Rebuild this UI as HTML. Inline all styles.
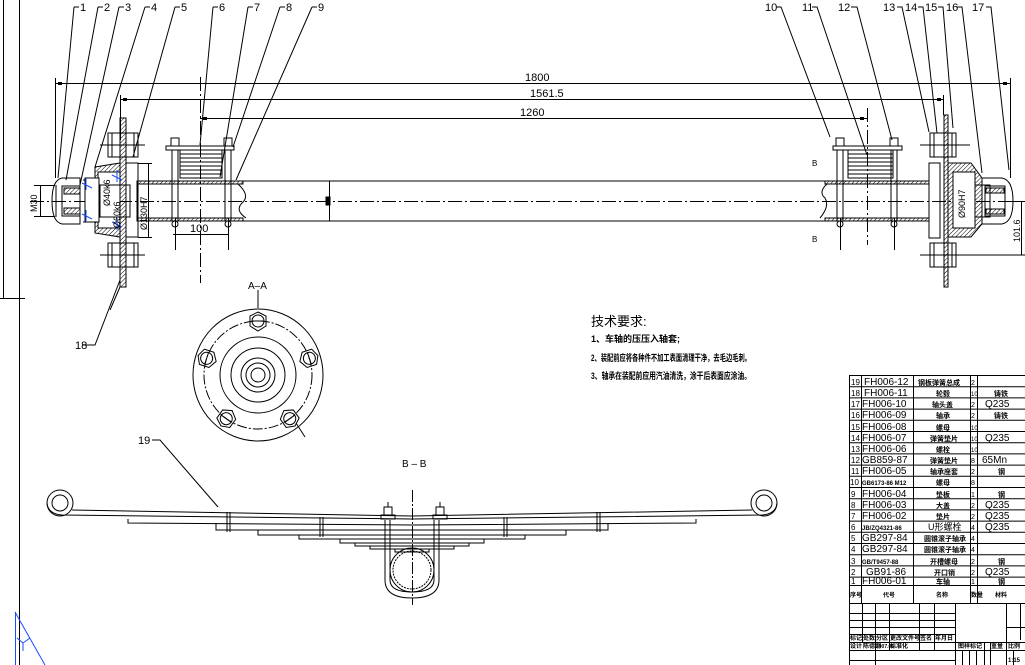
<!DOCTYPE html>
<html><head><meta charset="utf-8"><style>
html,body{margin:0;padding:0;background:#fff;}
svg{display:block;}
text{font-family:"Liberation Sans","Noto Sans CJK SC",sans-serif;fill:#000;}
.c{font-family:"Liberation Sans","Noto Sans CJK SC",sans-serif;font-weight:bold;}
</style></head><body>
<svg width="1025" height="665" viewBox="0 0 1025 665" xmlns="http://www.w3.org/2000/svg">
<defs>
<pattern id="h" width="3" height="3" patternUnits="userSpaceOnUse" patternTransform="rotate(45)"><line x1="0" y1="0" x2="0" y2="3" stroke="#000" stroke-width="1"/></pattern>
</defs>
<g stroke="#000" stroke-width="1" fill="none">
<line x1="3.5" y1="0" x2="3.5" y2="298"/><line x1="19.5" y1="0" x2="19.5" y2="665"/><line x1="0" y1="298.5" x2="25" y2="298.5"/>
<g stroke="#1a4cff"><line x1="15.5" y1="612" x2="15.5" y2="665"/><line x1="15" y1="612" x2="45" y2="665"/><line x1="17" y1="638" x2="23" y2="643"/><line x1="23" y1="643" x2="30" y2="638"/><line x1="23" y1="643" x2="23" y2="651"/></g>

<path d="M74,7 H79 M74,7 L58,178 M98,7 H103 M98,7 L66,180 M119,7 H124 M119,7 L80,185 M145,7 H150 M145,7 L95,167 M175,7 H180 M175,7 L133,157 M213,7 H218 M213,7 L200,145 M248,7 H253 M248,7 L220,177 M280,7 H285 M280,7 L233,147 M312,7 H317 M312,7 L236,180"/>
<path d="M776,7 H781 L830,137 M812,7 H817 L867,155 M851,7 H857 L892,140 M897,7 H902 L929,132 M918,7 H923 L937,133 M938,7 H943 L953,128 M957,7 H962 L982,173 M986,7 H991 L1009,170"/>

<line x1="55" y1="83.5" x2="1010" y2="83.5"/><line x1="120" y1="99.5" x2="944" y2="99.5"/><line x1="200" y1="118.5" x2="867" y2="118.5"/>
<line x1="55.5" y1="78" x2="55.5" y2="178"/><line x1="1010.5" y1="78" x2="1010.5" y2="178"/>
<line x1="120.5" y1="95" x2="120.5" y2="140"/><line x1="943.5" y1="95" x2="943.5" y2="115"/>
<g stroke-dasharray="14,3,2,3"><line x1="200.5" y1="77" x2="200.5" y2="283"/><line x1="867.5" y1="108" x2="867.5" y2="245"/><line x1="30" y1="201.5" x2="1025" y2="201.5"/></g>
<g fill="#000" stroke="none"><rect x="58" y="82" width="4" height="3"/><rect x="1003" y="82" width="4" height="3"/><rect x="123" y="98" width="4" height="3"/><rect x="937" y="98" width="4" height="3"/><rect x="203" y="117" width="4" height="3"/><rect x="860" y="117" width="4" height="3"/></g>

<path d="M137,181 H929 M137,221 H929 M137,181 V221"/>
<rect x="137" y="181" width="106" height="3" fill="url(#h)"/><rect x="137" y="218" width="106" height="3" fill="url(#h)"/>
<rect x="825" y="181" width="104" height="3" fill="url(#h)"/><rect x="825" y="218" width="104" height="3" fill="url(#h)"/>
<path d="M238,184 Q250,195 243,202 Q234,210 246,218"/><path d="M827,184 Q818,192 825,198 Q830,206 820,218"/>
<line x1="329.5" y1="181" x2="329.5" y2="221"/><rect x="326" y="197" width="4" height="8" fill="#000"/>

<rect x="120" y="118" width="6" height="169" fill="url(#h)"/>
<path d="M108,133 h30 v24 h-30 z M112,133 v24 M134,133 v24 M100,145 h45"/>
<path d="M108,243 h30 v24 h-30 z M112,243 v24 M134,243 v24 M100,255 h45"/>
<rect x="126" y="163" width="12" height="74"/>
<path d="M95,167 L120,163 V237 L95,233 Z" fill="url(#h)"/>
<rect x="98" y="172" width="22" height="56" fill="#fff"/>
<path d="M98,172 h22 v56 h-22 z M83,180 h15 M83,222 h15"/>
<rect x="85" y="178" width="14" height="44" fill="#fff"/>
<path d="M85,178 v44 M100,185 h30 v32 h-30 z"/>
<path d="M80,178 H62 Q52,180 52,201 Q52,222 62,224 H80 Z M56,185 V217 M62,186 h18 v30 h-18 z"/>
<rect x="64" y="188" width="16" height="6" fill="url(#h)"/><rect x="64" y="208" width="16" height="6" fill="url(#h)"/>
<g stroke="#1a4cff"><path d="M82,183 l10,5 M86,178 v12 M82,214 l10,5 M86,210 v12 M112,175 l10,5 M117,170 v12 M112,222 l10,5 M117,218 v12"/></g>
<line x1="148.5" y1="163" x2="148.5" y2="237"/><line x1="138" y1="163.5" x2="152" y2="163.5"/><line x1="138" y1="237.5" x2="152" y2="237.5"/>
<line x1="40.5" y1="185" x2="40.5" y2="217"/><line x1="34" y1="185.5" x2="55" y2="185.5"/><line x1="34" y1="216.5" x2="55" y2="216.5"/>
<path d="M120,287 L110,310"/><path d="M120,280 L95,345 H82"/>

<rect x="166" y="146" width="68" height="4"/>
<rect x="180" y="150" width="42" height="28"/>
<path d="M180,154h42M180,158h42M180,162h42M180,166h42M180,170h42M180,174h42"/>
<path d="M171,138 h8 v8 h-8 z M224,138 h8 v8 h-8 z M172,150 V221 M178,150 V221 M225,150 V221 M231,150 V221"/>
<circle cx="175" cy="224" r="3"/><circle cx="228" cy="224" r="3"/>
<line x1="175.5" y1="218" x2="175.5" y2="250"/><line x1="228.5" y1="218" x2="228.5" y2="250"/>
<line x1="173" y1="234.5" x2="228" y2="234.5"/>

<rect x="833" y="146" width="69" height="4"/>
<rect x="848" y="150" width="45" height="28"/>
<path d="M848,154h45M848,158h45M848,162h45M848,166h45M848,170h45M848,174h45"/>
<path d="M836,138 h8 v8 h-8 z M890,138 h8 v8 h-8 z M837,150 V221 M843,150 V221 M891,150 V221 M897,150 V221"/>
<circle cx="840" cy="224" r="3"/><circle cx="894" cy="224" r="3"/>
<line x1="840.5" y1="218" x2="840.5" y2="250"/><line x1="894.5" y1="218" x2="894.5" y2="250"/>

<rect x="944" y="115" width="4" height="172" fill="url(#h)"/>
<path d="M930,133 h26 v24 h-26 z M934,133 v24 M952,133 v24 M920,145 h50"/>
<path d="M930,243 h26 v24 h-26 z M934,243 v24 M952,243 v24 M920,255 h105"/>
<rect x="929" y="163" width="11" height="75"/>
<path d="M948,163 H971 L982,178 V224 L971,237 H948 Z" fill="url(#h)"/>
<rect x="953" y="172" width="22" height="56" fill="#fff"/><path d="M953,172 h22 v56 h-22 z M975,185 h15 v32 h-15"/>
<path d="M982,178 H1002 Q1013,180 1013,201 Q1013,222 1002,224 H982 M1005,188 v26 M985,186 h20 v30 h-20 z"/>
<rect x="986" y="188" width="18" height="5" fill="url(#h)"/><rect x="986" y="209" width="18" height="5" fill="url(#h)"/>
<line x1="1021.5" y1="201" x2="1021.5" y2="255"/><line x1="1012" y1="201.5" x2="1025" y2="201.5"/>

<path d="M258,290 V308"/>
<ellipse cx="258" cy="375" rx="65" ry="66"/>
<circle cx="258" cy="375" r="54" stroke-dasharray="10,2,2,2"/>
<circle cx="258" cy="375" r="38"/><circle cx="258" cy="375" r="27"/><circle cx="258" cy="375" r="17"/><circle cx="258" cy="375" r="12"/><circle cx="258" cy="375" r="7"/>
<g id="bolt"><polygon points="258,312 266,316 266,326 258,331 250,326 250,316"/><circle cx="258" cy="321" r="6"/><line x1="252" y1="321" x2="264" y2="321"/></g>
<use href="#bolt" transform="rotate(-72 258 375)"/><use href="#bolt" transform="rotate(72 258 375)"/><use href="#bolt" transform="rotate(-144 258 375)"/><use href="#bolt" transform="rotate(144 258 375)"/>
<line x1="296" y1="423" x2="305" y2="437"/>

<circle cx="60" cy="503" r="13"/><circle cx="60" cy="503" r="8"/>
<circle cx="764" cy="503" r="13"/><circle cx="764" cy="503" r="8"/>
<path d="M47,503 Q48,514 62,515 L412,519 L762,515 Q776,514 777,503"/>
<path d="M72,510 L412,516 L752,510"/>
<path d="M128,519 V523 L412,525 L696,523 V519"/>
<path d="M216,523 V530 L412,530 L608,530 V523"/>
<path d="M258,530 V535 H566 V530"/>
<path d="M299,535 V539 H525 V535"/>
<path d="M340,539 V543 H484 V539"/>
<path d="M355,543 V546 H469 V543"/>
<path d="M370,546 V549 H454 V546"/>
<path d="M395,549 V552 H429 V549"/>
<path d="M227,512 V532 M230,512 V532 M320,517 V537 M323,517 V537 M504,517 V537 M507,517 V537 M597,512 V532 M600,512 V532"/>
<path d="M218,507 L160,440 H152"/>
<path d="M385,520 V580 Q385,598 412,598 Q439,598 439,580 V520 M390,520 V580 Q390,592 412,592 Q434,592 434,580 V520"/>
<circle cx="412" cy="570" r="22"/><circle cx="412" cy="570" r="19" stroke-dasharray="2,1"/>
<path d="M381,515 h14 v4 h-14 z M433,515 h14 v4 h-14 z M384,507 h8 v8 h-8 z M436,507 h8 v8 h-8 z M388,502 v5 M440,502 v5"/>
<line x1="412.5" y1="490" x2="412.5" y2="605" stroke-dasharray="12,2,2,2"/>

<g stroke-width="1">
<rect x="849.5" y="375.5" width="176" height="228"/>
<path d="M861.5,375 V603 M913.5,375 V603 M970.5,375 V603 M977.5,375 V603"/>
<path d="M850,386.7H1025M850,397.9H1025M850,409.1H1025M850,420.3H1025M850,431.5H1025M850,442.7H1025M850,453.9H1025M850,465.1H1025M850,476.3H1025M850,487.5H1025M850,498.7H1025M850,509.9H1025M850,521.1H1025M850,532.3H1025M850,543.5H1025M850,554.7H1025M850,565.9H1025M850,577.1H1025M850,585.5H1025"/>
<path d="M849.5,603 V665 M850,613.5H955M850,620.5H955M850,627.5H955M850,634.5H955M850,642.5H1025M850,650.5H1025M850,660.5H955 M862.5,603V642 M875.5,603V665 M889.5,603V650 M919.5,603V650 M934.5,603V650 M955.5,603V665 M1006.5,603V665 M1020.5,603V640 M1006,627.5H1025 M962.5,650V665 M969.5,650V665 M976.5,650V665 M984.5,642V665 M990.5,642V665 M1013.5,650V665 M1006,650.5H1025"/>
</g>
</g>

<g font-size="11">
<text x="80" y="11">1</text><text x="104" y="11">2</text><text x="125" y="11">3</text><text x="151" y="11">4</text><text x="181" y="11">5</text><text x="219" y="11">6</text><text x="254" y="11">7</text><text x="286" y="11">8</text><text x="318" y="11">9</text>
<text x="765" y="11">10</text><text x="802" y="11">11</text><text x="838" y="11">12</text><text x="883" y="11">13</text><text x="905" y="11">14</text><text x="925" y="11">15</text><text x="946" y="11">16</text><text x="972" y="11">17</text>
<text x="525" y="81">1800</text><text x="530" y="97">1561.5</text><text x="520" y="116">1260</text>
<text x="190" y="232">100</text>
<text x="75" y="349">18</text><text x="138" y="444">19</text>
<text x="248" y="289" font-size="10">A–A</text><text x="402" y="467" font-size="10">B – B</text>
</g>
<g font-size="9">
<text transform="translate(37,212) rotate(-90)">M30</text>
<text transform="translate(147,230) rotate(-90)">Ø130H7</text>
<text transform="translate(120,228) rotate(-90)">Ø60k6</text>
<text transform="translate(110,206) rotate(-90)">Ø40k6</text>
<text transform="translate(965,218) rotate(-90)">Ø90H7</text>
<text transform="translate(1020,242) rotate(-90)">101.6</text>
<text x="812" y="166" font-size="8">B</text><text x="812" y="242" font-size="8">B</text>
</g>
<text x="591" y="326" font-size="13">技术要求:</text>
<text x="591" y="342" font-size="9" class="c">1、车轴的压压入轴套;</text>
<text x="591" y="361" font-size="9" class="c" textLength="160" lengthAdjust="spacingAndGlyphs">2、装配前应将各种件不加工表面清理干净，去毛边毛刺。</text>
<text x="591" y="379" font-size="9" class="c" textLength="160" lengthAdjust="spacingAndGlyphs">3、轴承在装配前应用汽油清洗，涂干后表面应涂油。</text>

<g font-size="10">
<text x="851" y="385" font-size="8">19</text><text x="864" y="385">FH006-12</text><text x="918" y="385" font-size="7" class="c">钢板弹簧总成</text><text x="971" y="385" font-size="7">2</text>
<text x="851" y="396" font-size="8">18</text><text x="864" y="396">FH006-11</text><text x="936" y="396" font-size="7" class="c">轮毂</text><text x="971" y="396" font-size="6">10</text><text x="994" y="396" font-size="7" class="c">铸铁</text>
<text x="851" y="407" font-size="8">17</text><text x="862" y="407">FH006-10</text><text x="932" y="407" font-size="7" class="c">轴头盖</text><text x="971" y="407" font-size="7">2</text><text x="985" y="407">Q235</text>
<text x="851" y="418" font-size="8">16</text><text x="862" y="418">FH006-09</text><text x="936" y="418" font-size="7" class="c">轴承</text><text x="971" y="418" font-size="7">2</text><text x="994" y="418" font-size="7" class="c">铸铁</text>
<text x="851" y="430" font-size="8">15</text><text x="862" y="430">FH006-08</text><text x="936" y="430" font-size="7" class="c">螺母</text><text x="971" y="430" font-size="6">10</text>
<text x="851" y="441" font-size="8">14</text><text x="862" y="441">FH006-07</text><text x="930" y="441" font-size="7" class="c">弹簧垫片</text><text x="971" y="441" font-size="6">10</text><text x="985" y="441">Q235</text>
<text x="851" y="452" font-size="8">13</text><text x="862" y="452">FH006-06</text><text x="936" y="452" font-size="7" class="c">螺栓</text><text x="971" y="452" font-size="6">10</text>
<text x="851" y="463" font-size="8">12</text><text x="862" y="463">GB859-87</text><text x="930" y="463" font-size="7" class="c">弹簧垫片</text><text x="971" y="463" font-size="7">8</text><text x="982" y="463">65Mn</text>
<text x="851" y="474" font-size="8">11</text><text x="862" y="474">FH006-05</text><text x="930" y="474" font-size="7" class="c">轴承座套</text><text x="971" y="474" font-size="7">2</text><text x="998" y="474" font-size="7" class="c">钢</text>
<text x="850" y="485" font-size="8">10</text><text x="862" y="485" font-size="6" class="c">GB6173-86 M12</text><text x="936" y="485" font-size="7" class="c">螺母</text><text x="971" y="485" font-size="7">8</text>
<text x="851" y="497" font-size="8">9</text><text x="862" y="497">FH006-04</text><text x="936" y="497" font-size="7" class="c">垫板</text><text x="971" y="497" font-size="7">1</text><text x="998" y="497" font-size="7" class="c">钢</text>
<text x="851" y="508" font-size="8">8</text><text x="862" y="508">FH006-03</text><text x="936" y="508" font-size="7" class="c">大盖</text><text x="971" y="508" font-size="7">2</text><text x="985" y="508">Q235</text>
<text x="851" y="519" font-size="8">7</text><text x="862" y="519">FH006-02</text><text x="936" y="519" font-size="7" class="c">垫片</text><text x="971" y="519" font-size="7">2</text><text x="985" y="519">Q235</text>
<text x="851" y="530" font-size="8">6</text><text x="862" y="530" font-size="6" class="c">JB/ZQ4321-86</text><text x="928" y="530" font-size="9">U形螺栓</text><text x="971" y="530" font-size="7">4</text><text x="985" y="530">Q235</text>
<text x="851" y="541" font-size="8">5</text><text x="862" y="541">GB297-84</text><text x="924" y="541" font-size="7" class="c">圆锥滚子轴承</text><text x="971" y="541" font-size="7">4</text>
<text x="851" y="552" font-size="8">4</text><text x="862" y="552">GB297-84</text><text x="924" y="552" font-size="7" class="c">圆锥滚子轴承</text><text x="971" y="552" font-size="7">4</text>
<text x="851" y="564" font-size="8">3</text><text x="862" y="564" font-size="6" class="c">GB/T9457-88</text><text x="930" y="564" font-size="7" class="c">开槽螺母</text><text x="971" y="564" font-size="7">2</text><text x="998" y="564" font-size="7" class="c">钢</text>
<text x="851" y="575" font-size="8">2</text><text x="866" y="575">GB91-86</text><text x="934" y="575" font-size="7" class="c">开口销</text><text x="971" y="575" font-size="7">2</text><text x="985" y="575">Q235</text>
<text x="851" y="584" font-size="8">1</text><text x="862" y="584">FH006-01</text><text x="936" y="584" font-size="7" class="c">车轴</text><text x="971" y="584" font-size="7">1</text><text x="998" y="584" font-size="7" class="c">钢</text>
</g>
<g font-size="6" class="c">
<text x="850" y="597">序号</text><text x="883" y="597">代号</text><text x="936" y="597">名称</text><text x="971" y="597">数量</text><text x="995" y="597">材料</text>
<text x="850" y="640">标记</text><text x="863" y="640">处数</text><text x="876" y="640">分区</text><text x="890" y="640">更改文件号</text><text x="920" y="640">签名</text><text x="935" y="640">年月日</text>
<text x="850" y="648">设计</text><text x="863" y="648">陈德刚</text><text x="876" y="648" font-size="5">2007.06</text><text x="890" y="648">标准化</text>
<text x="958" y="648">图样标记</text><text x="991" y="648">重量</text><text x="1008" y="648">比例</text><text x="1008" y="662">1:15</text>
</g>
</svg>
</body></html>
